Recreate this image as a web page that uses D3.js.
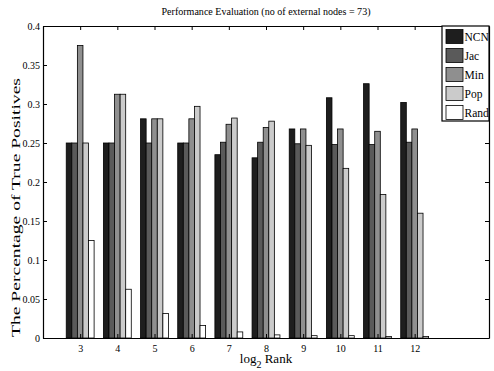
<!DOCTYPE html>
<html lang="en">
<head>
<meta charset="UTF-8">
<title>Performance Evaluation</title>
<script src="https://d3js.org/d3.v7.min.js"></script>
<style>
  body { margin: 0; background: #fff; }
  svg text { font-family: "Liberation Serif", "Times New Roman", serif; fill: #000; }
</style>
</head>
<body>
<div id="chart"></div>
<script>
// data
var ranks = [3, 4, 5, 6, 7, 8, 9, 10, 11, 12];
var seriesNames = ["NCN", "Jac", "Min", "Pop", "Rand"];
var ncn  = [0.25, 0.25, 0.281, 0.25, 0.235, 0.231, 0.268, 0.308, 0.326, 0.302];
var jac  = [0.25, 0.25, 0.25, 0.25, 0.251, 0.251, 0.249, 0.248, 0.248, 0.251];
var minv = [0.375, 0.3125, 0.281, 0.281, 0.274, 0.27, 0.268, 0.268, 0.265, 0.268];
var pop  = [0.25, 0.3125, 0.281, 0.297, 0.282, 0.278, 0.247, 0.2175, 0.184, 0.16];
var rand = [0.125, 0.0625, 0.0315, 0.016, 0.0078, 0.004, 0.003, 0.003, 0.002, 0.002];
var yTicks = [0, 0.05, 0.1, 0.15, 0.2, 0.25, 0.3, 0.35, 0.4];
var yTickLabels = ["0", "0.05", "0.1", "0.15", "0.2", "0.25", "0.3", "0.35", "0.4"];
var colors = ["#1e1e1e", "#5a5a5a", "#8f8f8f", "#cbcbcb", "#ffffff"];

var allSeries = [ncn, jac, minv, pop, rand];

var width = 494, height = 371;
// plot box (note: "top" is taken by window.top)
var pLeft = 43, pRight = 489, pTop = 26, pBottom = 338;

var svg = d3.select("#chart").append("svg")
    .attr("width", width)
    .attr("height", height);

var x = d3.scaleLinear().domain([2, 14]).range([pLeft, pRight]);
var y = d3.scaleLinear().domain([0, 0.4]).range([pBottom, pTop]);

// offsets inside each group, in rank units
var inner = d3.scaleBand().domain(seriesNames).range([-0.375, 0.375]);
var barW = x(inner.bandwidth()) - x(0);

// bars
var groups = svg.append("g");
seriesNames.forEach(function(name, s) {
    groups.append("g")
        .selectAll("rect")
        .data(allSeries[s])
        .enter().append("rect")
        .attr("x", function(d, i) { return x(ranks[i] + inner(name)); })
        .attr("y", function(d) { return y(d); })
        .attr("width", barW)
        .attr("height", function(d) { return y(0) - y(d); })
        .attr("fill", colors[s])
        .attr("stroke", "#000")
        .attr("stroke-width", 0.8);
});

// axes, ticks pointing inward like matlab
var xAxis = d3.axisBottom(x).tickValues(ranks).tickSizeInner(-4).tickSizeOuter(0).tickPadding(7);
var yAxis = d3.axisLeft(y).tickValues(yTicks)
    .tickFormat(function(d, i) { return yTickLabels[i]; })
    .tickSizeInner(-4).tickSizeOuter(0).tickPadding(3);

var gx = svg.append("g").attr("transform", "translate(0," + pBottom + ")").call(xAxis);
var gy = svg.append("g").attr("transform", "translate(" + pLeft + ",0)").call(yAxis);
svg.append("g").attr("transform", "translate(0," + pTop + ")")
    .call(d3.axisTop(x).tickValues(ranks).tickSizeInner(-4).tickSizeOuter(0).tickFormat(""));
svg.append("g").attr("transform", "translate(" + pRight + ",0)")
    .call(d3.axisRight(y).tickValues(yTicks).tickSizeInner(-4).tickSizeOuter(0).tickFormat(""));

svg.selectAll(".domain").attr("stroke", "#000").attr("stroke-width", 1.2);
svg.selectAll(".tick line").attr("stroke", "#000");
svg.selectAll("g[font-family]").attr("font-family", null);
gx.selectAll("text").attr("font-size", "10px");
gy.selectAll("text").attr("font-size", "10px");

// title
svg.append("text")
    .attr("x", (pLeft + pRight) / 2)
    .attr("y", 15)
    .attr("text-anchor", "middle")
    .attr("font-size", "11px")
    .attr("textLength", 209)
    .attr("lengthAdjust", "spacingAndGlyphs")
    .text("Performance Evaluation (no of external nodes = 73)");

// y label
svg.append("text")
    .attr("transform", "translate(19.5,207.5) rotate(-90)")
    .attr("text-anchor", "middle")
    .attr("font-size", "12.5px")
    .attr("textLength", 259)
    .attr("lengthAdjust", "spacingAndGlyphs")
    .text("The Percentage of True Positives");

// x label with subscript
var xl = svg.append("text")
    .attr("x", (pLeft + pRight) / 2)
    .attr("y", 362.5)
    .attr("text-anchor", "middle")
    .attr("font-size", "13px");
xl.append("tspan").text("log");
xl.append("tspan").attr("dy", 5).attr("font-size", "10px").text("2");
xl.append("tspan").attr("dy", -5).text(" Rank");

// legend
var lg = svg.append("g");
lg.append("rect")
    .attr("x", 442).attr("y", pTop)
    .attr("width", pRight - 442).attr("height", 121 - pTop)
    .attr("fill", "#fff").attr("stroke", "#000").attr("stroke-width", 1.2);
seriesNames.forEach(function(name, i) {
    lg.append("rect")
        .attr("x", 446).attr("y", 29.5 + 19 * i)
        .attr("width", 17).attr("height", 14)
        .attr("fill", colors[i]).attr("stroke", "#000").attr("stroke-width", 0.8);
    lg.append("text")
        .attr("x", 464.5).attr("y", 36.5 + 19 * i)
        .attr("dy", "0.35em")
        .attr("font-size", "11.5px")
        .text(name);
});
</script>
</body>
</html>
